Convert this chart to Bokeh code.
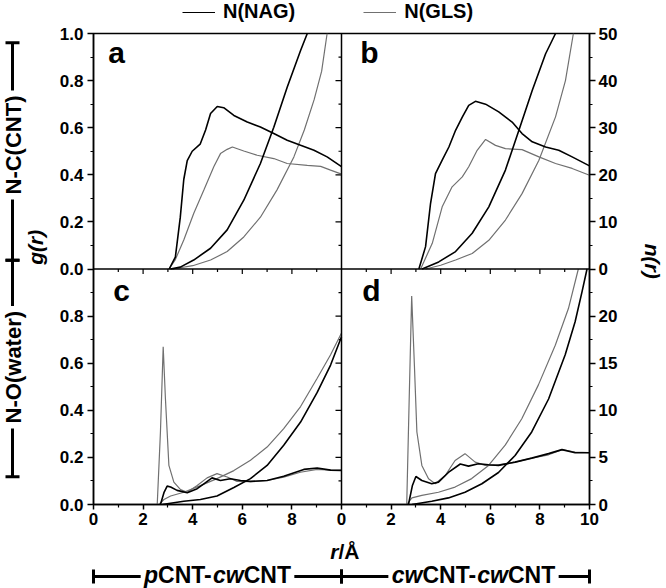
import math
from bokeh.plotting import figure
from bokeh.layouts import row, column
from bokeh.models import (Range1d, LinearAxis, FixedTicker, Label, Arrow, TeeHead,
                          Span, Legend, LegendItem)
from bokeh.embed import file_html
from bokeh.resources import INLINE

# ---------------- data ----------------
# panel a : N-C(CNT), pCNT-cwCNT
R_A_NAG_G = [3.05, 3.3, 3.5, 3.64, 3.78, 3.98, 4.3, 4.52, 4.72, 4.99, 5.25, 5.66, 6.2, 6.73, 7.27, 7.81, 8.35, 8.89, 9.42, 10.0]
G_A_NAG = [0.0, 0.05, 0.22, 0.38, 0.46, 0.50, 0.53, 0.59, 0.66, 0.69, 0.685, 0.652, 0.624, 0.603, 0.575, 0.547, 0.525, 0.504, 0.476, 0.435]
R_A_GLS_G = [3.05, 3.3, 3.64, 4.04, 4.45, 4.85, 5.12, 5.39, 5.6, 6.06, 6.6, 7.27, 7.81, 8.62, 9.16, 9.56, 10.0]
G_A_GLS = [0.0, 0.04, 0.123, 0.236, 0.335, 0.434, 0.49, 0.508, 0.518, 0.501, 0.483, 0.469, 0.448, 0.44, 0.436, 0.42, 0.403]
R_A_NAG_N = [3.1, 3.5, 4.04, 4.72, 5.39, 6.06, 6.73, 7.27, 7.81, 8.35, 8.62]
N_A_NAG = [0.0, 0.4, 1.9, 4.4, 8.3, 14.6, 22.4, 30.1, 38.6, 46.4, 50.0]
R_A_GLS_N = [3.2, 4.0, 4.72, 5.39, 6.06, 6.73, 7.4, 8.08, 8.5, 8.9, 9.2, 9.42]
N_A_GLS = [0.0, 0.7, 1.9, 3.7, 6.8, 11.0, 16.8, 23.8, 29.5, 36.0, 42.0, 50.0]

# panel b : N-C(CNT), cwCNT-cwCNT
R_B_NAG_G = [3.12, 3.39, 3.59, 3.79, 4.06, 4.33, 4.6, 4.87, 5.13, 5.4, 5.81, 6.34, 6.88, 7.28, 7.69, 8.23, 8.76, 9.3, 10.0]
G_B_NAG = [0.0, 0.095, 0.278, 0.405, 0.462, 0.518, 0.589, 0.645, 0.695, 0.712, 0.70, 0.667, 0.624, 0.575, 0.54, 0.518, 0.504, 0.476, 0.438]
R_B_GLS_G = [3.19, 3.66, 4.06, 4.46, 4.87, 5.13, 5.47, 5.81, 6.21, 6.61, 7.28, 7.96, 8.63, 9.3, 10.0]
G_B_GLS = [0.0, 0.109, 0.264, 0.349, 0.391, 0.434, 0.504, 0.55, 0.525, 0.511, 0.507, 0.476, 0.448, 0.427, 0.398]
R_B_NAG_N = [3.25, 3.92, 4.6, 5.27, 5.94, 6.61, 7.15, 7.69, 8.23, 8.63]
N_B_NAG = [0.0, 1.5, 3.7, 7.6, 13.2, 21.0, 29.4, 37.9, 45.7, 50.0]
R_B_GLS_N = [3.39, 4.0, 4.6, 5.27, 5.94, 6.61, 7.28, 7.96, 8.63, 9.03, 9.35]
N_B_GLS = [0.0, 0.8, 1.9, 3.3, 6.1, 10.4, 16.0, 23.1, 32.3, 40.0, 50.0]

# panel c : N-O(water), pCNT-cwCNT
R_C_NAG_G = [2.7, 2.84, 2.97, 3.11, 3.37, 3.78, 4.18, 4.45, 4.78, 5.12, 5.52, 5.93, 6.33, 7.0, 7.67, 8.48, 9.02, 9.56, 10.0]
G_C_NAG = [0.0, 0.05, 0.078, 0.074, 0.06, 0.05, 0.067, 0.088, 0.113, 0.102, 0.109, 0.102, 0.098, 0.102, 0.12, 0.149, 0.155, 0.146, 0.145]
R_C_GLS_G = [2.57, 2.7, 2.81, 2.9, 3.04, 3.24, 3.51, 3.78, 4.18, 4.58, 4.98, 5.39, 5.79, 6.33, 7.0, 7.67, 8.34, 9.02, 9.56, 10.0]
G_C_GLS = [0.0, 0.31, 0.67, 0.45, 0.166, 0.095, 0.063, 0.052, 0.081, 0.113, 0.131, 0.117, 0.098, 0.097, 0.102, 0.116, 0.137, 0.149, 0.146, 0.145]
R_C_NAG_N = [2.77, 3.64, 4.31, 4.98, 5.66, 6.33, 7.0, 7.67, 8.35, 9.02, 9.56, 10.0]
N_C_NAG = [0.0, 0.35, 0.53, 0.9, 1.8, 2.75, 4.15, 6.3, 8.75, 11.9, 14.8, 17.8]
R_C_GLS_N = [2.64, 2.84, 3.11, 3.64, 4.31, 4.98, 5.66, 6.33, 7.0, 7.67, 8.35, 9.02, 9.56, 10.0]
N_C_GLS = [0.0, 0.53, 0.9, 1.3, 2.0, 2.75, 3.6, 4.7, 6.1, 8.05, 10.4, 13.4, 15.9, 18.2]

# panel d : N-O(water), cwCNT-cwCNT
R_D_NAG_G = [2.7, 2.86, 3.0, 3.24, 3.64, 3.91, 4.31, 4.79, 5.12, 5.52, 5.93, 6.33, 7.0, 7.67, 8.35, 8.89, 9.42, 10.0]
G_D_NAG = [0.0, 0.081, 0.119, 0.102, 0.088, 0.095, 0.136, 0.172, 0.163, 0.173, 0.169, 0.166, 0.18, 0.197, 0.216, 0.233, 0.22, 0.22]
R_D_GLS_G = [2.63, 2.73, 2.83, 2.94, 3.04, 3.24, 3.51, 3.78, 4.18, 4.58, 4.98, 5.39, 5.79, 6.2, 7.0, 7.67, 8.35, 8.89, 9.42, 10.0]
G_D_GLS = [0.0, 0.45, 0.885, 0.59, 0.308, 0.166, 0.109, 0.088, 0.123, 0.187, 0.216, 0.18, 0.166, 0.166, 0.18, 0.197, 0.211, 0.233, 0.223, 0.22]
R_D_NAG_N = [2.84, 3.64, 4.31, 4.98, 5.66, 6.33, 7.0, 7.67, 8.35, 9.02, 9.42, 9.7, 9.9]
N_D_NAG = [0.0, 0.35, 0.7, 1.3, 2.2, 3.4, 5.2, 7.7, 11.2, 15.9, 19.4, 22.6, 25.0]
R_D_GLS_N = [2.63, 2.84, 3.24, 3.91, 4.58, 5.25, 5.93, 6.6, 7.27, 7.94, 8.62, 9.15, 9.55]
N_D_GLS = [0.0, 0.7, 0.96, 1.3, 1.85, 2.75, 4.15, 6.3, 9.1, 12.7, 16.9, 20.8, 25.0]

SERIES = ["N(NAG)", "N(GLS)"]
PANEL_LETTERS = ["a", "b", "c", "d"]
ROW_LABELS = ["N-C(CNT)", "N-O(water)"]
G_TICKS_TOP = [0.0, 0.2, 0.4, 0.6, 0.8, 1.0]
G_TICKS_BOTTOM = [0.0, 0.2, 0.4, 0.6, 0.8]
N_TICKS_TOP = [0, 10, 20, 30, 40, 50]
N_TICKS_BOTTOM = [0, 5, 10, 15, 20]
X_TICKS = [0, 2, 4, 6, 8, 10]
G_MAX = 1.0
N_MAX_TOP = 50.0
N_MAX_BOTTOM = 25.0
R_MAX = 10.0

# ---------------- styling / layout ----------------
FONT = "Liberation Sans"
BLACK = "#000000"
GRAY = "#707070"
T_H = 23            # legend strip
L_W = 48            # left decoration strip
R_W = 41            # right decoration strip
B_H = 54            # bottom decoration strip
MAIN_W, MAIN_H = 577, 511
ML, MR, MT, MB = 45, 36, 10, 30
FW, FH = MAIN_W - ML - MR, MAIN_H - MT - MB
TOTAL_W = L_W + MAIN_W + R_W


def blank(width, height, x0, x1, y0, y1):
    f = figure(width=width, height=height, output_backend="svg", toolbar_location=None,
               x_range=Range1d(x0, x1), y_range=Range1d(y0, y1),
               x_axis_type=None, y_axis_type=None, min_border=0)
    f.outline_line_color = None
    f.background_fill_color = "white"
    f.border_fill_color = "white"
    return f


p = figure(width=MAIN_W, height=MAIN_H, output_backend="svg", toolbar_location=None,
           x_range=Range1d(0, 2 * R_MAX), y_range=Range1d(0, 2 * G_MAX),
           x_axis_type=None, y_axis_type=None,
           min_border_left=ML, min_border_right=MR, min_border_top=MT, min_border_bottom=MB)
p.outline_line_color = "black"
p.outline_line_width = 1.5
p.background_fill_color = "white"
p.border_fill_color = "white"

p.extra_x_ranges = {"right_x": Range1d(-R_MAX, R_MAX)}
p.extra_y_ranges = {
    "top_g": Range1d(-G_MAX, G_MAX), "bot_g": Range1d(0, 2 * G_MAX),
    "top_n": Range1d(-N_MAX_TOP, N_MAX_TOP), "bot_n": Range1d(0, 2 * N_MAX_BOTTOM),
}


def style_axis(ax, standoff, tick_out=6):
    ax.axis_line_width = 1.5
    ax.major_tick_line_width = 1.5
    ax.minor_tick_line_width = 1.2
    ax.major_tick_out = tick_out
    ax.major_tick_in = 0
    ax.minor_tick_out = 3
    ax.minor_tick_in = 0
    ax.major_label_text_font = FONT
    ax.major_label_text_font_style = "bold"
    ax.major_label_text_font_size = "17px"
    ax.major_label_text_color = "black"
    ax.major_label_standoff = standoff


# left axis (g(r)) : bottom panel then top panel
g_pos, g_lab = [], {}
for v in G_TICKS_BOTTOM:
    pos = round(v / G_MAX, 6); g_pos.append(pos); g_lab[pos] = f"{v:.1f}"
for v in G_TICKS_TOP:
    pos = round(1 + v / G_MAX, 6)
    if pos not in g_pos:
        g_pos.append(pos)
    g_lab[pos] = f"{v:.1f}"
minor_y = [round(0.1 * k, 6) for k in range(1, 20, 2)]
left_ax = LinearAxis(ticker=FixedTicker(ticks=g_pos, minor_ticks=minor_y), major_label_overrides=g_lab)
style_axis(left_ax, 4)
p.add_layout(left_ax, "left")

# right axis (n(r))
n_pos, n_lab = [], {}
for v in N_TICKS_BOTTOM:
    pos = round(v / N_MAX_BOTTOM, 6); n_pos.append(pos); n_lab[pos] = str(v)
for v in N_TICKS_TOP:
    pos = round(1 + v / N_MAX_TOP, 6)
    if pos not in n_pos:
        n_pos.append(pos)
    n_lab[pos] = str(v)
right_ax = LinearAxis(ticker=FixedTicker(ticks=n_pos, minor_ticks=minor_y), major_label_overrides=n_lab)
style_axis(right_ax, 3)
p.add_layout(right_ax, "right")

# bottom axis (r)
x_pos, x_lab = [], {}
for v in X_TICKS[:-1]:
    x_pos.append(v); x_lab[v] = str(v)
for v in X_TICKS:
    x_pos.append(v + R_MAX); x_lab[v + R_MAX] = str(v)
minor_x = [k for k in range(1, 20, 2)]
bot_ax = LinearAxis(ticker=FixedTicker(ticks=x_pos, minor_ticks=minor_x), major_label_overrides=x_lab)
style_axis(bot_ax, 3, tick_out=5)
p.add_layout(bot_ax, "below")

# panel dividers
p.add_layout(Span(location=R_MAX, dimension="height", line_color="black", line_width=1.5))
p.add_layout(Span(location=G_MAX, dimension="width", line_color="black", line_width=1.5))

# inner boundary ticks (ticks of the inner axes)
xu = (2 * R_MAX) / FW
yu = (2 * G_MAX) / FH
tx = [k for k in range(1, 20) if k != 10]
p.segment(x0=tx, x1=tx, y0=[G_MAX] * len(tx),
          y1=[G_MAX - (5 if k % 2 == 0 else 3) * yu for k in tx],
          line_color="black", line_width=1.2)
ks = [k for k in range(1, 20) if k != 10]
ty = [round(0.1 * k, 6) for k in ks]
p.segment(x0=[R_MAX] * len(ty), x1=[R_MAX - (6 if k % 2 == 0 else 3) * xu for k in ks],
          y0=ty, y1=ty, line_color="black", line_width=1.2)


# ---------------- curves ----------------
def curve(r, v, xr, yr, color, width):
    kw = dict(line_color=color, line_width=width, y_range_name=yr)
    if xr != "default":
        kw["x_range_name"] = xr
    return p.line(r, v, **kw)


panels = [
    ("default", "top_g", "top_n", (R_A_NAG_G, G_A_NAG), (R_A_GLS_G, G_A_GLS), (R_A_NAG_N, N_A_NAG), (R_A_GLS_N, N_A_GLS)),
    ("right_x", "top_g", "top_n", (R_B_NAG_G, G_B_NAG), (R_B_GLS_G, G_B_GLS), (R_B_NAG_N, N_B_NAG), (R_B_GLS_N, N_B_GLS)),
    ("default", "bot_g", "bot_n", (R_C_NAG_G, G_C_NAG), (R_C_GLS_G, G_C_GLS), (R_C_NAG_N, N_C_NAG), (R_C_GLS_N, N_C_GLS)),
    ("right_x", "bot_g", "bot_n", (R_D_NAG_G, G_D_NAG), (R_D_GLS_G, G_D_GLS), (R_D_NAG_N, N_D_NAG), (R_D_GLS_N, N_D_GLS)),
]
for (xr, yg, yn, gn, gg, nn, ng) in panels:
    curve(*gg, xr, yg, GRAY, 1.2)
    curve(*ng, xr, yn, GRAY, 1.2)
    curve(*gn, xr, yg, BLACK, 1.6)
    curve(*nn, xr, yn, BLACK, 1.6)


def label(fig, text, x, y, size, style="bold", angle=0.0, align="center", baseline="middle",
          units="data", bg=None, pad=0, color="black"):
    kw = dict(x=x, y=y, x_units=units, y_units=units, text=text, angle=angle,
              text_font=FONT, text_font_style=style, text_font_size=size,
              text_align=align, text_baseline=baseline, text_color=color)
    if bg:
        kw.update(background_fill_color=bg, padding=pad)
    fig.add_layout(Label(**kw))


# panel letters (screen units within the panel frame)
for (px, py), letter in zip([(116, 52), (369, 52), (121, 290), (371, 290)], PANEL_LETTERS):
    label(p, letter, px - 93, (504 - py), "30px", units="screen")


def bracket(fig, x0, y0, x1, y1):
    fig.add_layout(Arrow(start=TeeHead(size=14, line_width=3), end=TeeHead(size=14, line_width=3),
                         x_start=x0, y_start=y0, x_end=x1, y_end=y1,
                         line_width=3, line_color="black"))


# ---------------- top strip : legend ----------------
top = blank(TOTAL_W, T_H, 0, TOTAL_W, 0, T_H)
d0 = top.line([0, 1], [-50, -50], line_color=BLACK, line_width=1.2)
d1 = top.line([0, 1], [-50, -50], line_color=GRAY, line_width=1.2)
legend = Legend(items=[LegendItem(label=SERIES[0], renderers=[d0]),
                       LegendItem(label=SERIES[1], renderers=[d1])],
                orientation="horizontal", location=(182, 0), padding=0, margin=0,
                spacing=68, glyph_width=33, glyph_height=12, label_standoff=8,
                label_height=12,
                label_text_font=FONT, label_text_font_style="bold", label_text_font_size="20px",
                label_text_color="black",
                border_line_alpha=0, background_fill_alpha=0)
top.add_layout(legend)

# ---------------- left strip : row brackets and g(r) ----------------
Y0 = T_H + MAIN_H          # page y of the strips' bottom
left = blank(L_W, MAIN_H, 0, L_W, 0, MAIN_H)
bracket(left, 12, Y0 - 33, 12, Y0 - 269)
bracket(left, 12, Y0 - 269, 12, Y0 - 504)
label(left, ROW_LABELS[0], 13, Y0 - 144, "22px", angle=math.pi / 2, bg="white", pad=5)
label(left, ROW_LABELS[1], 13, Y0 - 385, "22px", angle=math.pi / 2, bg="white", pad=5)
label(left, "g(r)", 35, Y0 - 255, "21px", style="bold italic", angle=math.pi / 2)

# ---------------- right strip : n(r) ----------------
right = blank(R_W, MAIN_H, L_W + MAIN_W, TOTAL_W, 0, MAIN_H)
label(right, "n(r)", 652, Y0 - 270, "21px", style="bold italic", angle=-math.pi / 2)

# ---------------- bottom strip : r/Å and column brackets ----------------
YB = Y0 + B_H
bottom = blank(TOTAL_W, B_H, 0, TOTAL_W, 0, B_H)
bracket(bottom, 93, YB - 576, 341, YB - 576)
bracket(bottom, 341, YB - 576, 589, YB - 576)

W_EM = {"p": .611, "c": .556, "w": .778, "C": .722, "N": .722, "T": .611, "-": .333}


def mixed(fig, parts, cx, cy, size_px):
    widths = [sum(W_EM[ch] for ch in t) * size_px for t, _ in parts]
    total = sum(widths)
    full = "".join(t for t, _ in parts)
    # white box that breaks the bracket line behind the text
    label(fig, full, cx, cy, f"{size_px}px", bg="white", pad=4, color="white")
    x = cx - total / 2
    for (t, st), w in zip(parts, widths):
        label(fig, t, x, cy, f"{size_px}px", style=st, align="left")
        x += w


mixed(bottom, [("p", "bold italic"), ("CNT-", "bold"), ("cw", "bold italic"), ("CNT", "bold")], 217, YB - 574, 23)
mixed(bottom, [("cw", "bold italic"), ("CNT-", "bold"), ("cw", "bold italic"), ("CNT", "bold")], 473, YB - 574, 23)
label(bottom, "r", 338, YB - 551, "21px", style="bold italic", align="right")
label(bottom, "/Å", 338, YB - 551, "21px", align="left")

layout = column(top, row(left, p, right), bottom)
open("out.html", "w").write(file_html(layout, INLINE))
